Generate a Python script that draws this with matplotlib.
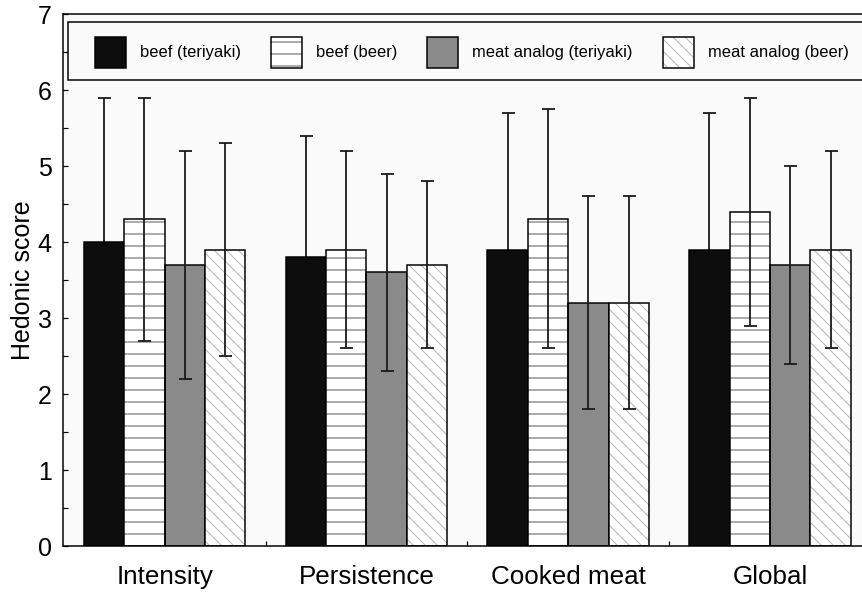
import matplotlib
matplotlib.use("Agg")
import matplotlib.pyplot as plt
import numpy as np
from matplotlib.lines import Line2D

plt.rcParams['font.family'] = ['Liberation Sans', 'DejaVu Sans']
plt.rcParams['hatch.linewidth'] = 1.0

categories = ["Intensity", "Persistence", "Cooked meat", "Global"]
series_names = ["beef (teriyaki)", "beef (beer)", "meat analog (teriyaki)", "meat analog (beer)"]

beef_teriyaki = [4.0, 3.8, 3.9, 3.9]
beef_teriyaki_err_lo = [1.9, 1.6, 1.8, 1.8]
beef_teriyaki_err_hi = [1.9, 1.6, 1.8, 1.8]

beef_beer = [4.3, 3.9, 4.3, 4.4]
beef_beer_err_lo = [1.6, 1.3, 1.7, 1.5]
beef_beer_err_hi = [1.6, 1.3, 1.45, 1.5]

analog_teriyaki = [3.7, 3.6, 3.2, 3.7]
analog_teriyaki_err_lo = [1.5, 1.3, 1.4, 1.3]
analog_teriyaki_err_hi = [1.5, 1.3, 1.4, 1.3]

analog_beer = [3.9, 3.7, 3.2, 3.9]
analog_beer_err_lo = [1.4, 1.1, 1.4, 1.3]
analog_beer_err_hi = [1.4, 1.1, 1.4, 1.3]

values = [beef_teriyaki, beef_beer, analog_teriyaki, analog_beer]
err_lo = [beef_teriyaki_err_lo, beef_beer_err_lo, analog_teriyaki_err_lo, analog_beer_err_lo]
err_hi = [beef_teriyaki_err_hi, beef_beer_err_hi, analog_teriyaki_err_hi, analog_beer_err_hi]

facecolors = ["#0d0d0d", "white", "#8a8a8a", "white"]
hatches = [None, "-", None, "\\\\"]
hatchcolors = [None, "#5a5a5a", None, "#b4b4b4"]
err_z = [1.5, 3, 3, 3]

W, H, DPI = 862, 594, 72
fig = plt.figure(figsize=(W / DPI, H / DPI), dpi=DPI)
ax_left, ax_right, ax_bottom, ax_top = 62.7, 862.0, 546.0, 14.0
px_per_group = 201.8
ax = fig.add_axes([ax_left / W, 1 - ax_bottom / H, (ax_right - ax_left) / W, (ax_bottom - ax_top) / H])
ax.set_facecolor("#fafafa")

x = np.arange(len(categories))
width = 0.2
offsets = (np.arange(4) - 1.5) * width

handles = []
for i in range(4):
    xs = x + offsets[i]
    if hatches[i] is None:
        b = ax.bar(xs, values[i], width, color=facecolors[i], edgecolor="black", linewidth=1.5, zorder=2)
        handles.append(b.patches[0])
    else:
        bh = ax.bar(xs, values[i], width, color=facecolors[i], edgecolor=hatchcolors[i],
                    hatch=hatches[i], linewidth=0, zorder=2)
        bo = ax.bar(xs, values[i], width, fill=False, edgecolor="black", linewidth=1.5, zorder=2.1)
        handles.append((bh.patches[0], bo.patches[0]))
    ax.errorbar(xs, values[i], yerr=[err_lo[i], err_hi[i]], fmt="none", ecolor="#1a1a1a",
                elinewidth=1.8, capsize=6.5, capthick=1.8, zorder=err_z[i])

xmin = -0.505
ax.set_xlim(xmin, xmin + (ax_right - ax_left) / px_per_group)
ax.set_ylim(0, 7)
ax.set_xticks(x)
ax.set_xticklabels(categories)
ax.set_xticks([0.5, 1.5, 2.5], minor=True)
ax.set_yticks(range(0, 8))
ax.set_yticks(np.arange(0.5, 7, 1.0), minor=True)
ax.tick_params(axis="x", which="major", length=0, pad=19, labelsize=26)
ax.tick_params(axis="x", which="minor", direction="in", length=5, width=1.2)
ax.tick_params(axis="y", which="both", direction="in", length=5, width=1.2, labelsize=25, pad=11)
for s in ax.spines.values():
    s.set_linewidth(1.5)
ax.spines["right"].set_visible(False)
ax.set_ylabel("Hedonic score", fontsize=25, labelpad=3)

# legend frame (open on the right, continuing past the figure edge)
fx0, fx1, fy0, fy1 = 68.0, 870.0, 22.0, 80.0
fig.lines.append(Line2D([fx1 / W, fx0 / W, fx0 / W, fx1 / W],
                        [1 - fy0 / H, 1 - fy0 / H, 1 - fy1 / H, 1 - fy1 / H],
                        transform=fig.transFigure, color="black", linewidth=1.5,
                        solid_joinstyle="miter", zorder=5))
fs = 16.5
leg = ax.legend(handles, series_names, ncol=4, loc="upper left",
                bbox_to_anchor=(95.0 / W, 1 - 36.7 / H), bbox_transform=fig.transFigure,
                frameon=False, fontsize=fs, borderpad=0, borderaxespad=0,
                handlelength=31 / fs, handleheight=2.51, handletextpad=14 / fs,
                columnspacing=30 / fs)

fig.savefig("out.png", dpi=DPI, facecolor="white")
